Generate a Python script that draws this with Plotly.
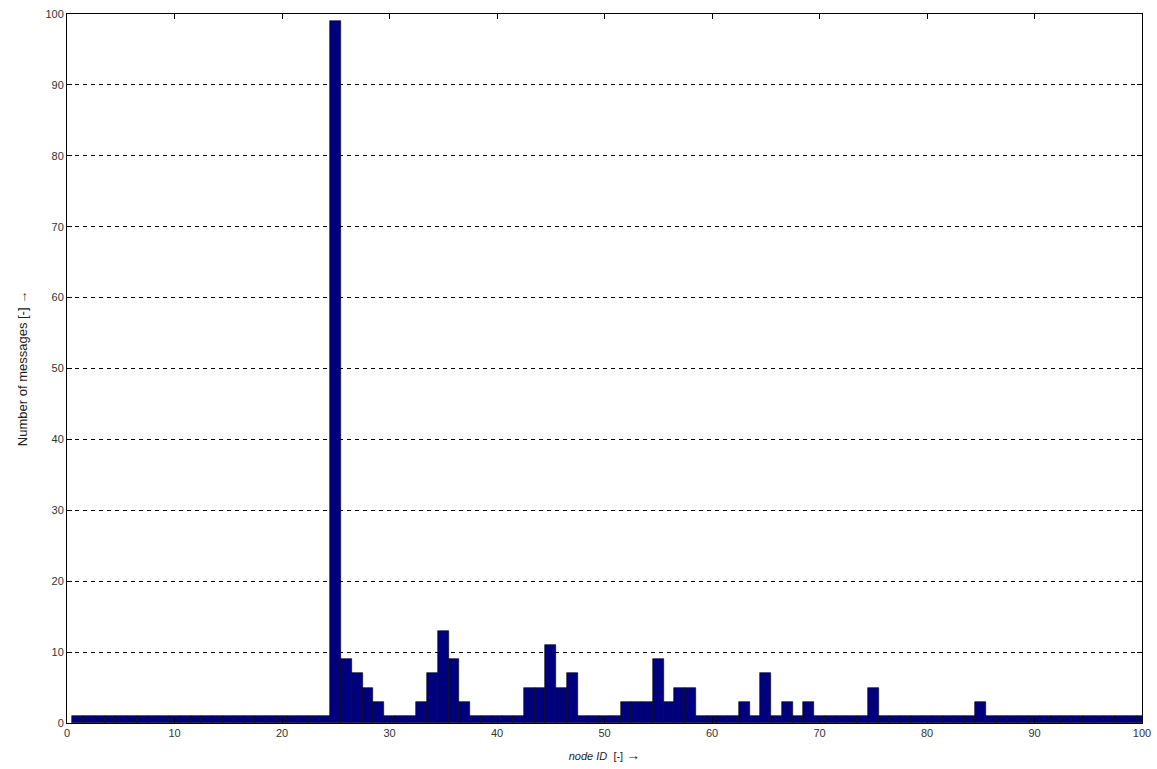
import plotly.graph_objects as go

node_ids = list(range(1, 101))
counts = [1] * 100
special = {25: 99, 26: 9, 27: 7, 28: 5, 29: 3,
           33: 3, 34: 7, 35: 13, 36: 9, 37: 3,
           43: 5, 44: 5, 45: 11, 46: 5, 47: 7,
           52: 3, 53: 3, 54: 3, 55: 9, 56: 3, 57: 5, 58: 5,
           63: 3, 65: 7, 67: 3, 69: 3, 75: 5, 85: 3}
for k, v in special.items():
    counts[k - 1] = v

x_ticks = list(range(0, 101, 10))
y_ticks = list(range(0, 101, 10))

fig = go.Figure()
fig.add_trace(go.Bar(
    x=node_ids, y=counts, width=1.0,
    marker=dict(color="#00007e", line=dict(color="#000000", width=0.6)),
))

font = dict(family="Liberation Sans, Arial, sans-serif", size=11, color="#333333")
fig.update_layout(
    width=1157, height=769,
    margin=dict(l=67, r=15, t=14, b=46),
    paper_bgcolor="white", plot_bgcolor="white",
    showlegend=False, bargap=0,
    font=font,
    xaxis=dict(range=[0, 100], tickvals=x_ticks, ticks="inside", ticklen=5,
               tickcolor="black", showline=True, linecolor="black", linewidth=1,
               mirror="ticks", showgrid=False, zeroline=False, automargin=False,
               title=dict(text="<i>node ID</i>  [-] <span style='font-size:14px'>→</span>",
                          font=dict(size=11, color="#222222"), standoff=14)),
    yaxis=dict(range=[0, 100], tickvals=y_ticks, ticks="inside", ticklen=5,
               tickcolor="black", showline=True, linecolor="black", linewidth=1,
               mirror="ticks", showgrid=True, gridcolor="black", gridwidth=1,
               griddash="4px,4px", zeroline=False, automargin=False,
               title=dict(text="Number of messages [-] →", font=dict(size=13, color="#222222"), standoff=14)),
)

fig.write_html("out.html")
